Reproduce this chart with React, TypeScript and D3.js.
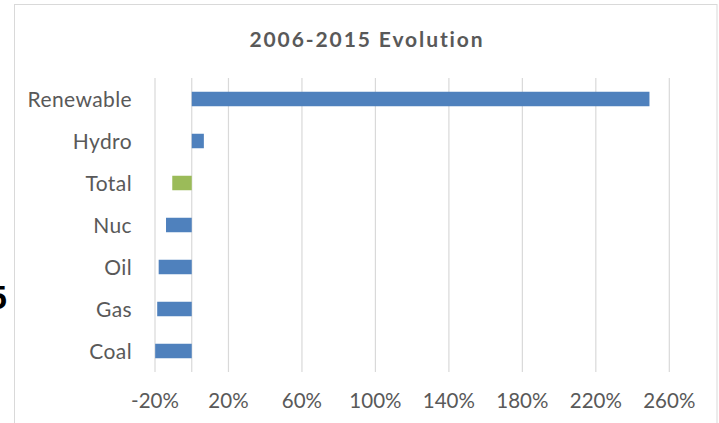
import React from "react";
import * as d3 from "d3";

const categories = ["Renewable", "Hydro", "Total", "Nuc", "Oil", "Gas", "Coal"];
const values = [249.2, 6.6, -10.6, -14, -18, -18.8, -19.9];
const isTotal = [false, false, true, false, false, false, false];
const tickValues = [-20, 20, 60, 100, 140, 180, 220, 260];
const title = "2006-2015 Evolution";

const W = 719;
const H = 423;
const FONT = "Lato, 'Open Sans', sans-serif";

export default function App() {
  const x = d3.scaleLinear().domain([-20, 260]).range([155, 669.3]);
  const y = d3
    .scaleBand<string>()
    .domain(categories)
    .range([78, 372])
    .paddingInner(0.655)
    .paddingOuter(0.655 / 2);
  const bh = y.bandwidth();
  const fmt = (v: number) => `${v}%`;

  return (
    <svg
      width={W}
      height={H}
      style={{ position: "absolute", left: 0, top: 0, background: "#fff" }}
      fontFamily={FONT}
    >
      <rect x={14.5} y={4.5} width={702.5} height={430} fill="#fff" stroke="#d9d9d9" strokeWidth={1} />
      <text x={7} y={309} textAnchor="end" fontSize={34} fontWeight="bold" fill="#000" fontFamily="'Liberation Sans', sans-serif">
        5
      </text>
      <text x={367} y={47} textAnchor="middle" fontSize={21} fontWeight="bold" fill="#595959" letterSpacing={1.9}>
        {title}
      </text>
      {tickValues.map((t) => (
        <line key={"g" + t} x1={x(t)} x2={x(t)} y1={78} y2={372} stroke="#d9d9d9" strokeWidth={1.2} />
      ))}
      <line x1={x(0)} x2={x(0)} y1={78} y2={372} stroke="#d9d9d9" strokeWidth={1.2} />
      {categories.map((c, i) => (
        <rect
          key={c}
          x={x(Math.min(0, values[i]))}
          y={y(c)!}
          width={Math.abs(x(values[i]) - x(0))}
          height={bh}
          fill={isTotal[i] ? "#9bbb59" : "#4f81bd"}
        />
      ))}
      {categories.map((c) => (
        <text
          key={"l" + c}
          x={132}
          y={y(c)! + bh / 2 + 7.5}
          textAnchor="end"
          fontSize={21}
          letterSpacing={0.4}
          fill="#595959"
        >
          {c}
        </text>
      ))}
      {tickValues.map((t) => (
        <text key={"t" + t} x={x(t)} y={408.3} textAnchor="middle" fontSize={20.5} fill="#595959">
          {fmt(t)}
        </text>
      ))}
    </svg>
  );
}
